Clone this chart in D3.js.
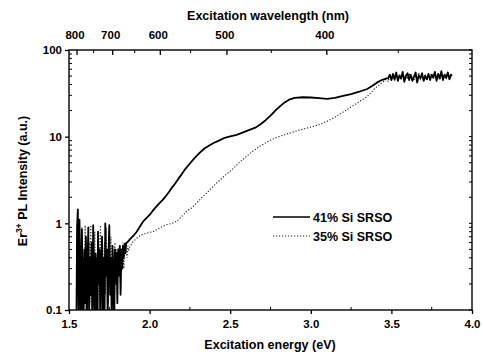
<!DOCTYPE html>
<html><head><meta charset="utf-8">
<script src="https://cdn.jsdelivr.net/npm/d3@7"></script>
<style>body{margin:0;background:#fff}svg{display:block}text{font-family:"Liberation Sans",Arial,sans-serif;fill:#000}</style>
</head><body><svg id="c" width="483" height="356"></svg>
<script>
// ---- data ----
const seriesNames = ["41% Si SRSO", "35% Si SRSO"];
const energyTicks = [1.5, 2.0, 2.5, 3.0, 3.5, 4.0];
const intensityTicks = [0.1, 1, 10, 100];
const wavelengthTicks = [800, 700, 600, 500, 400];
const wavelengthMinor = [750, 650, 550, 450, 350];

// 41% Si SRSO : noisy low-energy part
const aNoiseE = [1.545,1.550,1.555,1.560,1.565,1.570,1.575,1.580,1.585,1.590,1.595,1.600,1.605,1.610,1.615,1.620,1.625,1.630,1.635,1.640,1.645,1.650,1.655,1.660,1.665,1.670,1.675,1.680,1.685,1.690,1.695,1.700,1.705,1.710,1.715,1.720,1.725,1.730,1.735,1.740,1.745,1.750,1.755,1.760,1.765,1.770,1.775,1.780,1.785,1.790,1.795,1.800,1.805,1.810,1.815,1.820,1.825,1.830,1.835,1.840,1.845,1.850,1.855];
const aNoiseI = [0.04,0.9,1.45,0.05,1.1,0.3,0.06,0.85,0.2,0.05,0.5,0.12,0.7,0.05,0.35,0.9,0.08,0.4,0.15,0.6,0.05,0.95,0.25,0.07,0.45,0.3,0.06,0.8,0.2,0.5,0.05,0.35,0.7,0.1,0.4,0.06,1.0,0.25,0.5,0.08,0.45,0.95,0.15,0.4,0.07,0.55,0.3,0.05,0.5,0.2,0.45,0.12,0.5,0.25,0.55,0.15,0.5,0.3,0.55,0.4,0.58,0.45,0.6];
// 41% Si SRSO : smooth middle part
const aE = [1.86,1.88,1.90,1.92,1.94,1.96,1.98,2.00,2.02,2.04,2.06,2.08,2.10,2.12,2.14,2.16,2.18,2.20,2.22,2.25,2.28,2.31,2.34,2.37,2.40,2.43,2.46,2.50,2.54,2.58,2.62,2.66,2.69,2.72,2.75,2.78,2.81,2.84,2.87,2.90,2.95,3.00,3.05,3.10,3.15,3.20,3.25,3.30,3.35,3.38,3.41,3.44,3.47];
const aI = [0.6,0.66,0.72,0.8,0.92,1.05,1.15,1.25,1.4,1.55,1.7,1.85,2.05,2.3,2.6,2.9,3.3,3.7,4.2,4.9,5.7,6.5,7.3,7.9,8.5,9.0,9.6,10.1,10.5,11.2,12.0,12.8,14.0,15.5,17.5,20,22.5,25,27,28,28.5,28.3,27.8,27.3,28,29.5,31,33,35.5,38.5,42,45,47];
// 41% Si SRSO : noisy high-energy part
const aTopE = [3.48,3.49,3.50,3.51,3.52,3.53,3.54,3.55,3.56,3.57,3.58,3.59,3.60,3.61,3.62,3.63,3.64,3.65,3.66,3.67,3.68,3.69,3.70,3.71,3.72,3.73,3.74,3.75,3.76,3.77,3.78,3.79,3.80,3.81,3.82,3.83,3.84,3.85,3.86,3.87,3.875];
const aTopI = [47,52,45,53,46,55,44,51,47,56,43,50,54,45,52,44,49,55,42,51,47,54,44,50,46,53,45,52,48,56,44,53,47,57,45,52,48,55,46,52,50];

// 35% Si SRSO : noisy low-energy part
const bNoiseE = [1.560,1.565,1.570,1.575,1.580,1.585,1.590,1.595,1.600,1.605,1.610,1.615,1.620,1.625,1.630,1.635,1.640,1.645,1.650,1.655,1.660,1.665,1.670,1.675,1.680,1.685,1.690,1.695,1.700,1.705,1.710,1.715,1.720,1.725,1.730,1.735,1.740,1.745,1.750,1.755,1.760,1.765,1.770,1.775,1.780,1.785,1.790,1.795,1.800,1.805,1.810,1.815,1.820,1.825,1.830,1.835,1.840,1.845,1.850,1.855,1.860,1.865,1.870,1.875];
const bNoiseI = [0.3,0.08,0.5,0.2,0.9,0.1,0.4,0.25,0.95,0.15,0.5,0.07,0.3,0.6,0.12,0.95,0.3,0.1,0.5,0.2,0.8,0.09,0.4,0.25,0.6,0.1,0.45,0.95,0.2,0.5,0.08,0.35,0.6,0.15,0.9,0.3,0.5,0.12,0.45,0.3,0.7,0.2,0.55,0.1,0.4,0.6,0.25,0.5,0.15,0.45,0.35,0.55,0.2,0.5,0.4,0.6,0.3,0.55,0.45,0.5,0.4,0.55,0.48,0.52];
// 35% Si SRSO : smooth middle part
const bE = [1.88,1.90,1.93,1.96,1.99,2.02,2.05,2.08,2.11,2.14,2.17,2.20,2.23,2.26,2.29,2.32,2.35,2.38,2.41,2.44,2.47,2.50,2.53,2.56,2.60,2.64,2.68,2.72,2.76,2.80,2.85,2.90,2.95,3.00,3.05,3.10,3.15,3.20,3.25,3.30,3.35,3.39,3.42,3.45];
const bI = [0.55,0.62,0.7,0.75,0.78,0.8,0.86,0.92,0.97,1.0,1.06,1.2,1.38,1.5,1.7,1.95,2.2,2.5,2.85,3.2,3.6,4.0,4.5,5.1,5.9,6.8,7.7,8.5,9.3,10.0,10.7,11.5,12.2,12.9,13.7,15.0,16.8,19.2,22,25.2,29,35,39,43];
// 35% Si SRSO : noisy high-energy part
const bTopE = [3.46,3.47,3.48,3.49,3.50,3.51,3.52,3.53,3.54,3.55,3.56,3.57,3.58,3.59,3.60,3.61,3.62,3.63,3.64,3.65,3.66,3.67,3.68,3.69,3.70,3.71,3.72,3.73,3.74,3.75,3.76,3.77,3.78,3.79,3.80,3.81,3.82,3.83,3.84,3.85,3.86,3.87];
const bTopI = [44,48,43,50,46,49,44,52,47,50,45,53,48,51,46,54,47,50,45,52,48,55,46,50,47,53,45,51,49,54,46,52,48,50,45,53,47,51,46,54,49,51];

// ---- layout ----
const svg = d3.select("#c");
const L = 69, R = 472, T = 50, B = 310;
const x = d3.scaleLinear().domain([1.5, 4.0]).range([L, R]);
const y = d3.scaleLog().domain([0.1, 100]).range([B, T]);
const wlToX = wl => x(1239.84 / wl);

svg.append("clipPath").attr("id","clip").append("rect").attr("x",L).attr("y",T).attr("width",R-L).attr("height",B-T);

function join(eArrs, iArrs){ const pts=[]; eArrs.forEach((ea,k)=>ea.forEach((e,i)=>pts.push([e, iArrs[k][i]]))); return pts; }
const aPts = join([aNoiseE,aE,aTopE],[aNoiseI,aI,aTopI]);
const bPts = join([bNoiseE,bE,bTopE],[bNoiseI,bI,bTopI]);
const line = d3.line().x(d=>x(d[0])).y(d=>y(Math.max(d[1],0.03)));

const g = svg.append("g").attr("clip-path","url(#clip)");
g.append("path").attr("d", line(bPts)).attr("fill","none").attr("stroke","#222").attr("stroke-width",1.1).attr("stroke-dasharray","1.2,1.8");
g.append("path").attr("d", line(aPts)).attr("fill","none").attr("stroke","#000").attr("stroke-width",1.8).attr("stroke-linejoin","round");

// frame
svg.append("rect").attr("x",L).attr("y",T).attr("width",R-L).attr("height",B-T).attr("fill","none").attr("stroke","#000").attr("stroke-width",1.4);

// axes
const fs = 11.5;
const bottomAx = svg.append("g").attr("transform",`translate(0,${B})`).call(d3.axisBottom(x).tickValues(energyTicks).tickFormat(d3.format(".1f")).tickSize(4).tickPadding(6));
const leftAx = svg.append("g").attr("transform",`translate(${L},0)`).call(d3.axisLeft(y).tickValues(intensityTicks).tickFormat(d=>String(d)).tickSize(4).tickPadding(3));
[bottomAx,leftAx].forEach(a=>{a.select(".domain").remove();a.selectAll("text").attr("font-size",fs).attr("font-weight","bold").attr("fill","#000").attr("font-family","Liberation Sans, Arial, sans-serif");a.selectAll("line").attr("stroke","#000").attr("stroke-width",1.3);});

// minor ticks
const minorY = [];
[0.1,1,10].forEach(dd=>{for(let k=2;k<=9;k++) minorY.push(dd*k);});
svg.append("g").selectAll("line").data(minorY).join("line").attr("x1",L).attr("x2",L+3).attr("y1",d=>y(d)).attr("y2",d=>y(d)).attr("stroke","#000").attr("stroke-width",1);
svg.append("g").selectAll("line").data(minorY.concat(intensityTicks)).join("line").attr("x1",R).attr("x2",R-3).attr("y1",d=>y(d)).attr("y2",d=>y(d)).attr("stroke","#000").attr("stroke-width",1);
const minorX = [1.75,2.25,2.75,3.25,3.75];
svg.append("g").selectAll("line").data(minorX).join("line").attr("x1",d=>x(d)).attr("x2",d=>x(d)).attr("y1",B).attr("y2",B-3).attr("stroke","#000");

// top wavelength axis
const topAx = svg.append("g").attr("transform",`translate(0,${T})`);
topAx.append("g").selectAll("line").data(wavelengthTicks).join("line").attr("x1",wlToX).attr("x2",wlToX).attr("y1",0).attr("y2",5).attr("stroke","#000").attr("stroke-width",1.3);
topAx.append("g").selectAll("line").data(wavelengthMinor).join("line").attr("x1",wlToX).attr("x2",wlToX).attr("y1",0).attr("y2",3).attr("stroke","#000");
topAx.append("g").selectAll("text").data(wavelengthTicks).join("text").attr("x",d=>wlToX(d)-2).attr("y",-11).attr("text-anchor","middle").attr("font-size",fs).attr("font-weight","bold").text(d=>d);

// titles
svg.append("text").attr("x",268).attr("y",20).attr("text-anchor","middle").attr("font-size",12.5).attr("font-weight","bold").text("Excitation wavelength (nm)");
svg.append("text").attr("x",270).attr("y",349).attr("text-anchor","middle").attr("font-size",12.5).attr("font-weight","bold").text("Excitation energy (eV)");
const yl = svg.append("text").attr("transform","translate(27,181) rotate(-90)").attr("text-anchor","middle").attr("font-size",12.5).attr("font-weight","bold");
yl.append("tspan").text("Er");
yl.append("tspan").attr("dy",-5).attr("font-size",8.5).text("3+");
yl.append("tspan").attr("dy",5).text(" PL Intensity (a.u.)");

// legend
const lg = svg.append("g");
lg.append("line").attr("x1",273).attr("x2",310).attr("y1",217).attr("y2",217).attr("stroke","#000").attr("stroke-width",1.5);
lg.append("text").attr("x",313).attr("y",222).attr("font-size",12.5).attr("font-weight","bold").text(seriesNames[0]);
lg.append("line").attr("x1",273).attr("x2",310).attr("y1",236).attr("y2",236).attr("stroke","#222").attr("stroke-width",1.1).attr("stroke-dasharray","1.2,1.8");
lg.append("text").attr("x",313).attr("y",241).attr("font-size",12.5).attr("font-weight","bold").text(seriesNames[1]);
</script></body></html>
